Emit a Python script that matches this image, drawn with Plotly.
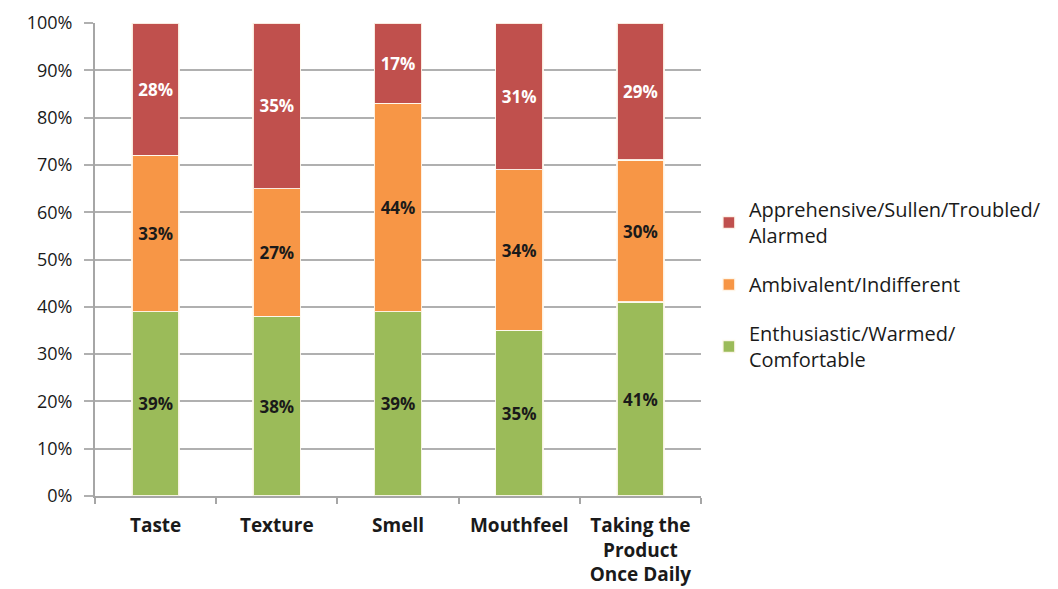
import plotly.graph_objects as go

categories = ["Taste", "Texture", "Smell", "Mouthfeel", "Taking the<br>Product<br>Once Daily"]
enthusiastic = [39, 38, 39, 35, 41]
ambivalent = [33, 27, 44, 34, 30]
apprehensive = [28, 35, 17, 31, 29]
series_names = ["Enthusiastic/Warmed/<br>Comfortable", "Ambivalent/Indifferent",
                "Apprehensive/Sullen/Troubled/<br>Alarmed"]
colors = ["#9BBB59", "#F79646", "#C0504D"]
text_colors = ["#1A1A1A", "#1A1A1A", "#FFFFFF"]
y_ticks = [0, 10, 20, 30, 40, 50, 60, 70, 80, 90, 100]
y_tick_labels = ["0%", "10%", "20%", "30%", "40%", "50%", "60%", "70%", "80%", "90%", "100%"]

FONT = "Open Sans"
fig = go.Figure()
for i, vals in enumerate([enthusiastic, ambivalent, apprehensive]):
    fig.add_trace(go.Bar(
        x=categories, y=vals, name=series_names[i],
        marker=dict(color=colors[i], line=dict(color="rgba(255,250,240,0.9)", width=1.5)),
        text=[f"{v}%" for v in vals], texttemplate="%{text}",
        textposition="inside", insidetextanchor="middle", textangle=0,
        textfont=dict(family=FONT, size=17, color=text_colors[i], weight="bold"),
        legendgroup="g%d" % i, legendrank=3 - i,
    ))

fig.update_layout(
    barmode="stack", bargap=0.61,
    width=1058, height=589,
    margin=dict(l=87, r=365, t=15, b=101, autoexpand=False),
    plot_bgcolor="white", paper_bgcolor="white",
    font=dict(family=FONT, size=17, color="#1A1A1A"),
    showlegend=True,
    legend=dict(x=1.013, xanchor="left", y=0.447, yanchor="middle",
                traceorder="grouped", tracegroupgap=20,
                font=dict(family=FONT, size=20, color="#1A1A1A"),
                itemwidth=30),
    uniformtext=dict(mode=False),
)
fig.update_yaxes(
    range=[0, 100], tickvals=y_ticks, ticktext=y_tick_labels,
    showgrid=True, gridcolor="#B0B0B0", gridwidth=2,
    showline=True, linecolor="#A6A6A6", linewidth=2,
    ticks="outside", ticklen=9, tickcolor="#B0B0B0", tickwidth=2,
    ticklabelstandoff=8, zeroline=False, automargin=False,
    tickfont=dict(family=FONT, size=18, color="#1A1A1A"),
)
fig.update_xaxes(
    showline=True, linecolor="#A6A6A6", linewidth=2,
    ticks="outside", tickson="boundaries", ticklen=6, tickcolor="#A6A6A6", tickwidth=2,
    ticklabelstandoff=11, automargin=False,
    tickfont=dict(family=FONT, size=19, color="#1A1A1A", weight="bold"),
)

fig.write_html("out.html")
